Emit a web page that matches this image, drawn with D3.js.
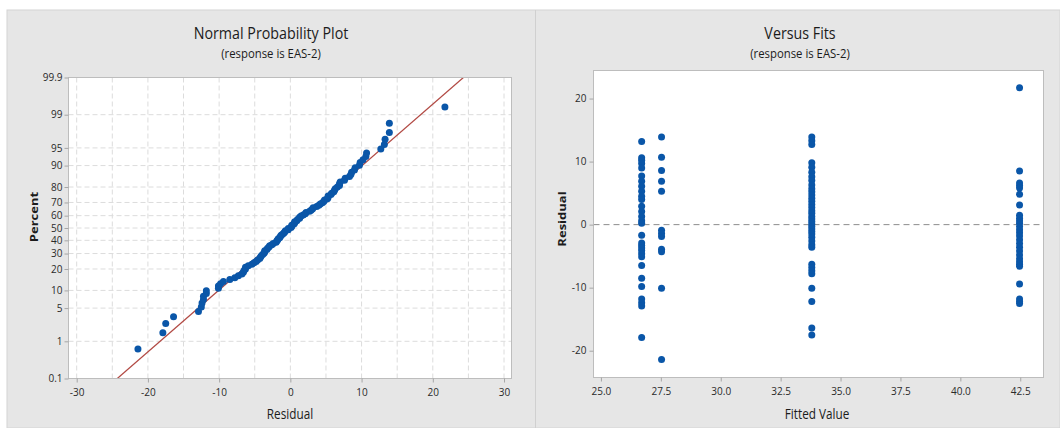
<!DOCTYPE html>
<html>
<head>
<meta charset="utf-8">
<script src="https://cdn.jsdelivr.net/npm/d3@7"></script>
<style>
  body { margin: 0; background: #ffffff; }
  text { font-family: "Open Sans", "Noto Sans", sans-serif; }
</style>
</head>
<body>
<div id="content"></div>
<script>
// fitted values (one column of residuals per fit)
const fittedValues = [26.70, 27.53, 33.80, 42.47];

const residualsFit1 = [13.2, 10.6, 10.2, 9.7, 9.0, 7.7, 6.9, 6.1, 5.3, 4.5, 4.0, 2.9, 2.1, 1.3, 0.6, 0.2,
  -1.7, -2.9, -3.3, -3.7, -4.1, -4.6, -5.1, -6.5, -8.5, -9.8, -11.8, -12.4, -12.9, -17.9];
const residualsFit2 = [13.9, 10.7, 8.6, 6.9, 5.3, -0.9, -1.4, -1.9, -3.9, -4.3, -10.1, -21.4];
const residualsFit3 = [13.9, 13.3, 12.7, 9.8, 9.1, 8.3, 7.6, 7.0, 6.3, 5.7, 5.2, 4.7, 4.2, 3.7, 3.2, 2.7,
  2.2, 1.8, 1.3, 0.9, 0.5, 0.1, -0.3, -0.7, -1.1, -1.5, -2.0, -2.6, -3.2, -3.6, -6.3, -6.8, -7.3,
  -7.8, -10.1, -12.2, -16.4, -17.5];
const residualsFit4 = [21.7, 8.5, 6.6, 6.2, 5.8, 4.8, 3.1, 1.5, 1.0, 0.6, 0.2, -0.3, -0.8, -1.3, -1.8,
  -2.4, -3.0, -3.6, -4.2, -4.8, -5.4, -5.9, -6.3, -6.6, -9.4, -11.8, -12.2, -12.5];

// fitted normal line of the probability plot (residual at 0.1% and 99.9%)
const fitLineResidual = [-24.3, 24.3];
const fitLinePercent = [0.1, 99.9];

// tick values
const nppXTicks = [-30, -20, -10, 0, 10, 20, 30];
const nppXGrid = [-30, -25, -20, -15, -10, -5, 0, 5, 10, 15, 20, 25, 30];
const nppPercentTicks = [0.1, 1, 5, 10, 20, 30, 40, 50, 60, 70, 80, 90, 95, 99, 99.9];
const fitsXTicks = [25.0, 27.5, 30.0, 32.5, 35.0, 37.5, 40.0, 42.5];
const fitsYTicks = [-20, -10, 0, 10, 20];

const W = 1060, H = 428;
const dotColor = "#0a56a8";
const textSquash = 0.84; // the original text is a bit narrow

window.onload = function() {
  drawChart();
};

// inverse normal cdf (Acklam)
function probit(p) {
  let a = [-3.969683028665376e+01, 2.209460984245205e+02, -2.759285104469687e+02, 1.383577518672690e+02, -3.066479806614716e+01, 2.506628277459239e+00];
  let b = [-5.447609879822406e+01, 1.615858368580409e+02, -1.556989798598866e+02, 6.680131188771972e+01, -1.328068155288572e+01];
  let c = [-7.784894002430293e-03, -3.223964580411365e-01, -2.400758277161838e+00, -2.549732539343734e+00, 4.374664141464968e+00, 2.938163982698783e+00];
  let d = [7.784695709041462e-03, 3.224671290700398e-01, 2.445134137142996e+00, 3.754408661907416e+00];
  let pl = 0.02425, q, r;
  if (p < pl) {
    q = Math.sqrt(-2 * Math.log(p));
    return (((((c[0]*q+c[1])*q+c[2])*q+c[3])*q+c[4])*q+c[5]) / ((((d[0]*q+d[1])*q+d[2])*q+d[3])*q+1);
  }
  if (p > 1 - pl) {
    q = Math.sqrt(-2 * Math.log(1 - p));
    return -(((((c[0]*q+c[1])*q+c[2])*q+c[3])*q+c[4])*q+c[5]) / ((((d[0]*q+d[1])*q+d[2])*q+d[3])*q+1);
  }
  q = p - 0.5;
  r = q * q;
  return (((((a[0]*r+a[1])*r+a[2])*r+a[3])*r+a[4])*r+a[5])*q / (((((b[0]*r+b[1])*r+b[2])*r+b[3])*r+b[4])*r+1);
}

function addText(g, x, y, str, size, weight, rotate) {
  let t = g.append("text")
    .attr("transform", "translate(" + x + "," + y + ")" + (rotate ? " rotate(-90)" : "") + (rotate ? " scale(1," + textSquash + ")" : " scale(" + textSquash + ",1)"))
    .attr("text-anchor", "middle")
    .style("font-size", size + "px")
    .style("font-weight", weight || "normal")
    .style("fill", "#1b1b1b")
    .text(str);
  return t;
}

function styleAxis(g) {
  g.select(".domain").remove();
  g.selectAll(".tick line").attr("stroke", "#a6a6a6");
  g.selectAll(".tick text")
    .style("font-size", "10px")
    .style("fill", "#2a2a2a")
    .style("font-family", "'Open Sans', sans-serif");
}

function drawChart() {
  let svg = d3.select("#content")
    .append("svg")
    .attr("width", W)
    .attr("height", H);

  // panel backgrounds
  svg.append("rect").attr("x", 7).attr("y", 10).attr("width", W - 7).attr("height", H - 10)
    .style("fill", "#e6e6e6").style("stroke", "#d4d4d4");
  svg.append("line").attr("x1", 535.5).attr("x2", 535.5).attr("y1", 10).attr("y2", H)
    .style("stroke", "#d0d0d0");

  // ---------- Normal Probability Plot ----------
  let L = { left: 68.5, right: 511.5, top: 77.5, bottom: 378.5 };
  let x1 = d3.scaleLinear().domain([-31.15, 31.05]).range([L.left, L.right]);
  let y1 = d3.scaleLinear().domain([probit(0.001), probit(0.999)]).range([L.bottom, L.top]);
  let left = svg.append("g");

  left.append("rect").attr("x", L.left).attr("y", L.top)
    .attr("width", L.right - L.left).attr("height", L.bottom - L.top)
    .style("fill", "#ffffff");

  // dashed grid
  left.selectAll(".vgrid").data(nppXGrid).enter().append("line")
    .attr("x1", d => x1(d)).attr("x2", d => x1(d))
    .attr("y1", L.top).attr("y2", L.bottom)
    .style("stroke", "#dcdcdc").style("stroke-dasharray", "5,3");
  left.selectAll(".hgrid").data(nppPercentTicks.slice(1, -1)).enter().append("line")
    .attr("x1", L.left).attr("x2", L.right)
    .attr("y1", d => y1(probit(d / 100))).attr("y2", d => y1(probit(d / 100)))
    .style("stroke", "#dcdcdc").style("stroke-dasharray", "5,3");

  // fitted line
  left.append("line")
    .attr("x1", x1(fitLineResidual[0])).attr("y1", y1(probit(fitLinePercent[0] / 100)))
    .attr("x2", x1(fitLineResidual[1])).attr("y2", y1(probit(fitLinePercent[1] / 100)))
    .style("stroke", "#b24a44").style("stroke-width", 1.2);

  // points: sorted residuals against median ranks
  let all = residualsFit1.concat(residualsFit2, residualsFit3, residualsFit4).sort((a, b) => a - b);
  let n = all.length;
  left.selectAll(".pt").data(all).enter().append("circle")
    .attr("cx", d => x1(d))
    .attr("cy", (d, i) => y1(probit((i + 1 - 0.3) / (n + 0.4))))
    .attr("r", 3.5)
    .style("fill", dotColor);

  left.append("rect").attr("x", L.left).attr("y", L.top)
    .attr("width", L.right - L.left).attr("height", L.bottom - L.top)
    .style("fill", "none").style("stroke", "#bdbdbd");

  let ax1 = left.append("g").attr("transform", "translate(0," + L.bottom + ")")
    .call(d3.axisBottom(x1).tickValues(nppXTicks).tickFormat(d => String(d)).tickSize(4).tickPadding(6));
  styleAxis(ax1);
  let ay1 = left.append("g").attr("transform", "translate(" + L.left + ",0)")
    .call(d3.axisLeft(y1).tickValues(nppPercentTicks.map(p => probit(p / 100)))
      .tickFormat((d, i) => String(nppPercentTicks[i])).tickSize(4).tickPadding(2));
  styleAxis(ay1);

  addText(left, 271, 39, "Normal Probability Plot", 17);
  addText(left, 271, 58, "(response is EAS-2)", 13.5);
  addText(left, 290, 419, "Residual", 14);
  addText(left, 38, 217, "Percent", 13, "bold", true);

  // ---------- Versus Fits ----------
  let R = { left: 593.5, right: 1043.5, top: 70.5, bottom: 377.5 };
  let x2 = d3.scaleLinear().domain([24.69, 43.47]).range([R.left, R.right]);
  let y2 = d3.scaleLinear().domain([-24.25, 24.45]).range([R.bottom, R.top]);
  let right = svg.append("g");

  right.append("rect").attr("x", R.left).attr("y", R.top)
    .attr("width", R.right - R.left).attr("height", R.bottom - R.top)
    .style("fill", "#ffffff");

  // reference line at zero
  right.append("line")
    .attr("x1", R.left).attr("x2", R.right)
    .attr("y1", y2(0)).attr("y2", y2(0))
    .style("stroke", "#8c8c8c").style("stroke-dasharray", "6,4");

  let columns = [residualsFit1, residualsFit2, residualsFit3, residualsFit4];
  columns.forEach(function(col, k) {
    right.selectAll(".c" + k).data(col).enter().append("circle")
      .attr("cx", x2(fittedValues[k]))
      .attr("cy", d => y2(d))
      .attr("r", 3.5)
      .style("fill", dotColor);
  });

  right.append("rect").attr("x", R.left).attr("y", R.top)
    .attr("width", R.right - R.left).attr("height", R.bottom - R.top)
    .style("fill", "none").style("stroke", "#bdbdbd");

  let ax2 = right.append("g").attr("transform", "translate(0," + R.bottom + ")")
    .call(d3.axisBottom(x2).tickValues(fitsXTicks).tickFormat(d3.format(".1f")).tickSize(4).tickPadding(6));
  styleAxis(ax2);
  let ay2 = right.append("g").attr("transform", "translate(" + R.left + ",0)")
    .call(d3.axisLeft(y2).tickValues(fitsYTicks).tickFormat(d => String(d)).tickSize(4).tickPadding(3));
  styleAxis(ay2);

  addText(right, 800, 39, "Versus Fits", 17);
  addText(right, 800, 58, "(response is EAS-2)", 13.5);
  addText(right, 817, 419, "Fitted Value", 14);
  addText(right, 566, 219, "Residual", 13, "bold", true);
}
</script>
</body>
</html>
